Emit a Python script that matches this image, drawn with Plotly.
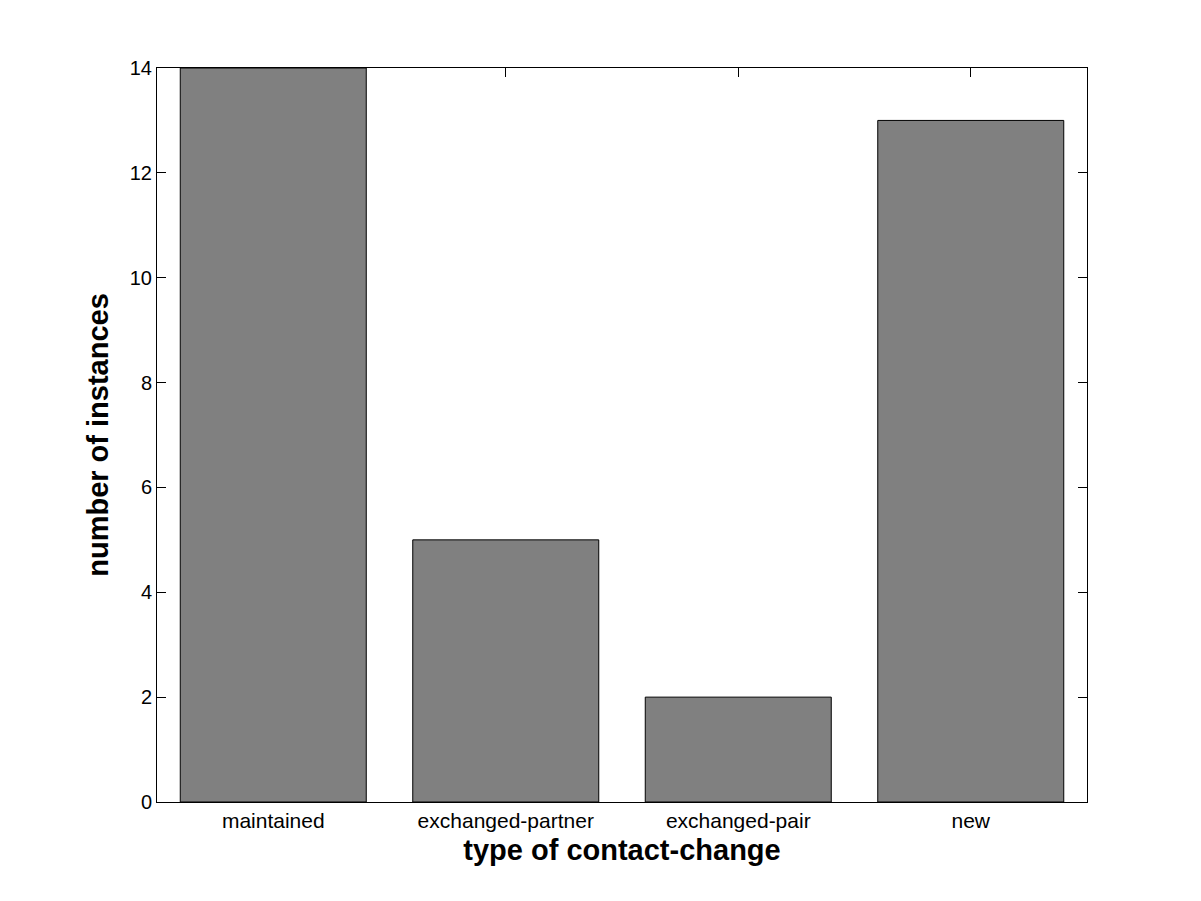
import plotly.graph_objects as go

categories = ["maintained", "exchanged-partner", "exchanged-pair", "new"]
counts = [14, 5, 2, 13]
positions = [1, 2, 3, 4]
y_ticks = [0, 2, 4, 6, 8, 10, 12, 14]

fig = go.Figure(go.Bar(
    x=positions, y=counts, width=0.8,
    marker=dict(color="#808080", line=dict(color="black", width=1)),
))

font = "Liberation Sans, Arial, Helvetica, sans-serif"
fig.update_layout(
    width=1201, height=901,
    margin=dict(l=149, r=122, t=60, b=107),
    paper_bgcolor="white", plot_bgcolor="white",
    font=dict(family=font, size=20, color="black"),
    showlegend=False,
    xaxis=dict(
        range=[0.5, 4.5], tickmode="array", tickvals=positions, ticktext=categories,
        ticks="inside", ticklen=9, tickcolor="black", showline=True, linecolor="black",
        linewidth=1, mirror="allticks", showgrid=False, zeroline=False, layer="below traces",
        title=dict(text="<b>type of contact-change</b>", font=dict(size=29, family=font), standoff=8),
        tickfont=dict(size=21),
    ),
    yaxis=dict(
        range=[0, 14], tickmode="array", tickvals=y_ticks,
        ticks="inside", ticklen=9, tickcolor="black", showline=True, linecolor="black",
        linewidth=1, mirror="allticks", showgrid=False, zeroline=False, layer="below traces",
        title=dict(text="<b>number of instances</b>", font=dict(size=29, family=font), standoff=12),
        tickfont=dict(size=20),
    ),
)

fig.write_html("out.html")
